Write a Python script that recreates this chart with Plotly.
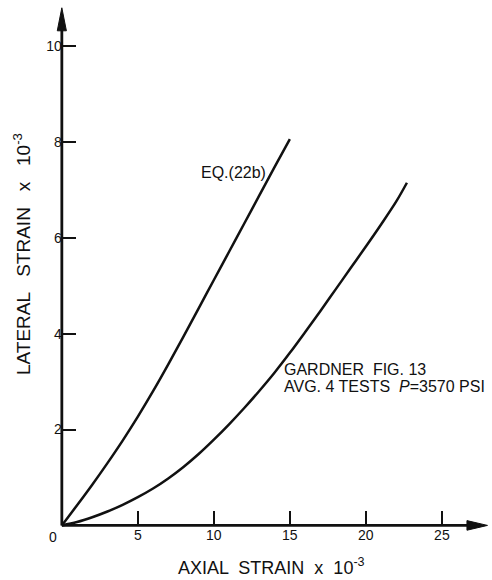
import plotly.graph_objects as go

# ---- data ----
eq_x = [0, 1, 2, 3, 4, 5, 6, 7, 8, 9, 10, 11, 12, 13, 14, 15]
eq_y = [0, 0.42, 0.85, 1.30, 1.77, 2.27, 2.80, 3.36, 3.94, 4.53, 5.12, 5.71, 6.30, 6.89, 7.48, 8.06]

gard_x = [0, 1, 2, 3, 4, 5, 6, 7, 8, 9, 10, 11, 12, 13, 14, 15, 16, 17, 18, 19, 20, 21, 22, 22.7]
gard_y = [0, 0.07, 0.17, 0.29, 0.43, 0.59, 0.77, 0.98, 1.22, 1.49, 1.79, 2.11, 2.45, 2.81, 3.19,
          3.60, 4.03, 4.47, 4.92, 5.37, 5.82, 6.28, 6.76, 7.15]

x_ticks = [5, 10, 15, 20, 25]
y_ticks = [2, 4, 6, 8, 10]

X_MIN, X_MAX = -0.45, 28.1
Y_MIN, Y_MAX = -0.2, 10.9
X_ARROW, Y_ARROW = 28.0, 10.8

W, H = 492, 580
ML, MR, MT, MB = 55, 3, 3, 45

FONT = "Liberation Sans, Arial, sans-serif"
INK = "#111111"


def px_to_paper_x(px):
    return (px - ML) / (W - ML - MR)


def px_to_paper_y(py):
    return (H - MB - py) / (H - MT - MB)


fig = go.Figure()
fig.add_trace(go.Scatter(x=eq_x, y=eq_y, mode="lines",
                         line=dict(color=INK, width=2.5, shape="spline", smoothing=1.0),
                         showlegend=False, hoverinfo="skip"))
fig.add_trace(go.Scatter(x=gard_x, y=gard_y, mode="lines",
                         line=dict(color=INK, width=2.5, shape="spline", smoothing=1.0),
                         showlegend=False, hoverinfo="skip"))

# axis lines with arrowheads
hx, hy = 1.35, 0.10   # x-arrow head length / half-width (data units)
vx, vy = 0.30, 0.48   # y-arrow head half-width / length
fig.add_shape(type="line", x0=0, y0=0, x1=X_ARROW - hx * 0.5, y1=0, line=dict(color=INK, width=2.8))
fig.add_shape(type="line", x0=0, y0=0, x1=0, y1=Y_ARROW - vy * 0.5, line=dict(color=INK, width=2.8))
fig.add_shape(type="path",
              path=f"M {X_ARROW},0 L {X_ARROW - hx},{hy} L {X_ARROW - hx},{-hy} Z",
              fillcolor=INK, line=dict(color=INK, width=1))
fig.add_shape(type="path",
              path=f"M 0,{Y_ARROW} L {vx},{Y_ARROW - vy} L {-vx},{Y_ARROW - vy} Z",
              fillcolor=INK, line=dict(color=INK, width=1))

xpos = (0 - Y_MIN) / (Y_MAX - Y_MIN)
ypos = (0 - X_MIN) / (X_MAX - X_MIN)

fig.update_layout(
    width=W, height=H,
    margin=dict(l=ML, r=MR, t=MT, b=MB),
    paper_bgcolor="white", plot_bgcolor="white",
    font=dict(family=FONT, color=INK),
    xaxis=dict(range=[X_MIN, X_MAX], showgrid=False, zeroline=False, showline=False,
               tickvals=x_ticks, ticktext=[str(v) for v in x_ticks],
               ticks="inside", ticklen=14, tickwidth=1.6, tickcolor=INK,
               anchor="free", position=xpos, tickfont=dict(size=14, family=FONT, color=INK)),
    yaxis=dict(range=[Y_MIN, Y_MAX], showgrid=False, zeroline=False, showline=False,
               tickvals=y_ticks, ticktext=[str(v) for v in y_ticks],
               ticks="inside", ticklen=13, tickwidth=1.6, tickcolor=INK,
               anchor="free", position=ypos, ticklabelstandoff=0,
               tickfont=dict(size=14, family=FONT, color=INK)),
)

ann = [
    dict(x=0, y=0, text="0", xanchor="right", yanchor="top", xshift=-3, yshift=-2,
         font=dict(size=14), xref="x", yref="y"),
    dict(x=13.55, y=7.37, text="EQ.(22b)", xanchor="right", yanchor="middle",
         font=dict(size=16), xref="x", yref="y"),
    dict(x=14.45, y=3.26, text="GARDNER  FIG. 13", xanchor="left", yanchor="middle",
         font=dict(size=16), xref="x", yref="y"),
    dict(x=14.45, y=2.90, text="AVG. 4 TESTS  <i>P</i>=3570 PSI", xanchor="left", yanchor="middle",
         font=dict(size=16), xref="x", yref="y"),
    dict(x=px_to_paper_x(271), y=px_to_paper_y(566), text="AXIAL  STRAIN  x  10<sup>-3</sup>",
         xanchor="center", yanchor="middle", font=dict(size=18), xref="paper", yref="paper"),
    dict(x=px_to_paper_x(22), y=px_to_paper_y(254), text="LATERAL   STRAIN   x   10<sup>-3</sup>",
         textangle=-90, xanchor="center", yanchor="middle", font=dict(size=19),
         xref="paper", yref="paper"),
]
for a in ann:
    a.update(showarrow=False)
    fig.add_annotation(**a)

fig.write_html("out.html")
